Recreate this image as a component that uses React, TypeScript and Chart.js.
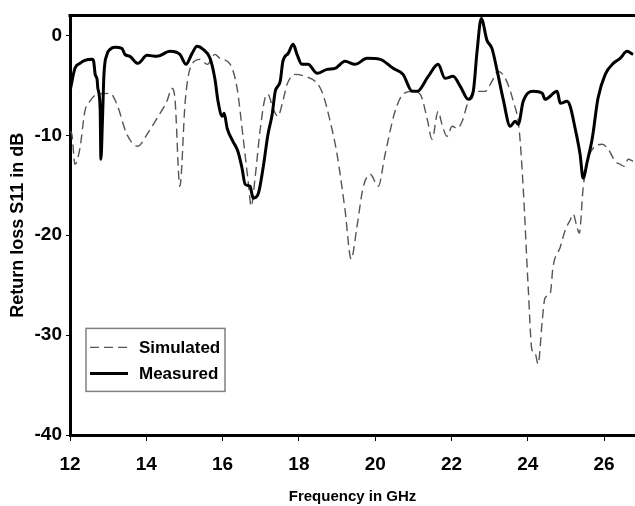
import { useEffect, useRef } from 'react';
import { Chart, registerables } from 'chart.js';

Chart.register(...registerables);

const FONT = "'Liberation Sans', Arial, sans-serif";

// Frequency axis (GHz)
const xTickStep = 2;
const xMin = 12;
const xMax = 26.81;
// Return loss axis (dB)
const yTickStep = 10;
const yMin = -40;
const yMax = 2;

const seriesLabels = ['Simulated', 'Measured'];

const simulatedFreq = [
  12.0, 12.05, 12.13, 12.26, 12.39, 12.52, 12.71, 13.05, 13.23, 13.49, 13.78, 14.02, 14.28, 14.54,
  14.67, 14.75, 14.88, 15.02, 15.15, 15.41, 15.6, 15.8, 15.93, 16.2, 16.38, 16.54, 16.67, 16.75,
  16.85, 16.98, 17.11, 17.19, 17.32, 17.45, 17.56, 17.69, 17.9, 18.16, 18.48, 18.63, 18.82, 19.0,
  19.21, 19.37, 19.52, 19.68, 19.87, 20.08, 20.26, 20.52, 20.73, 20.97, 21.18, 21.36, 21.49, 21.65,
  21.75, 21.88, 22.02, 22.15, 22.28, 22.44, 22.62, 22.88, 23.06, 23.22, 23.41, 23.62, 23.77, 23.88,
  24.01, 24.11, 24.19, 24.27, 24.38, 24.45, 24.59, 24.66, 24.85, 24.98, 25.11, 25.19, 25.29, 25.35,
  25.45, 25.56, 25.69, 25.95, 26.11, 26.29, 26.42, 26.53, 26.63, 26.76,
];
const simulatedDb = [
  -9.6, -9.9, -12.9, -11.3, -7.6, -6.6, -5.9, -5.8, -6.9, -9.9, -11.1, -9.9, -8.3, -6.6,
  -5.3, -6.3, -15.1, -6.6, -3.3, -2.4, -2.9, -1.9, -2.3, -2.9, -5.3, -10.3, -14.6, -17.1,
  -14.3, -9.6, -6.3, -5.9, -7.3, -8.1, -6.9, -4.9, -3.9, -4.1, -4.8, -5.9, -8.6, -11.9,
  -17.5, -22.4, -19.2, -15.3, -13.9, -15.1, -11.9, -7.6, -5.9, -5.6, -5.9, -8.3, -10.4, -7.6,
  -8.9, -10.1, -9.1, -9.3, -8.6, -6.6, -5.6, -5.6, -4.6, -3.6, -4.3, -6.6, -9.3, -15.3,
  -25.2, -31.5, -31.8, -32.9, -28.5, -26.3, -25.8, -23.2, -21.2, -19.5, -18.5, -17.9, -19.2, -19.8,
  -15.3, -12.6, -11.4, -10.9, -11.4, -12.6, -12.9, -13.1, -12.4, -12.6,
];

const measuredFreq = [
  12.0, 12.13, 12.26, 12.39, 12.58, 12.62, 12.66, 12.71, 12.73, 12.79, 12.81, 12.85, 12.89, 12.97,
  13.05, 13.18, 13.36, 13.44, 13.57, 13.78, 14.02, 14.28, 14.62, 14.88, 15.04, 15.2, 15.33, 15.49,
  15.67, 15.8, 15.88, 15.99, 16.04, 16.12, 16.27, 16.4, 16.51, 16.59, 16.72, 16.8, 16.93, 17.06,
  17.19, 17.3, 17.38, 17.51, 17.58, 17.72, 17.85, 17.95, 18.08, 18.24, 18.48, 18.74, 18.95, 19.21,
  19.47, 19.79, 20.13, 20.47, 20.73, 20.97, 21.1, 21.39, 21.65, 21.83, 22.04, 22.23, 22.44, 22.57,
  22.67, 22.78, 22.93, 23.06, 23.2, 23.35, 23.54, 23.67, 23.75, 23.88, 24.14, 24.38, 24.45, 24.77,
  24.85, 25.03, 25.11, 25.24, 25.37, 25.45, 25.56, 25.69, 25.84, 26.03, 26.24, 26.42, 26.6, 26.76,
];
const measuredDb = [
  -5.6, -3.3, -2.8, -2.5, -2.4, -2.6, -3.9, -4.4, -5.3, -7.3, -12.4, -8.6, -3.9, -1.9,
  -1.4, -1.2, -1.3, -1.9, -2.1, -2.8, -2.0, -2.1, -1.6, -1.9, -2.9, -1.8, -1.1, -1.4,
  -2.3, -4.4, -6.6, -8.1, -7.8, -9.3, -10.6, -11.6, -13.3, -14.9, -15.1, -16.3, -15.9, -13.3,
  -9.9, -7.9, -5.6, -4.6, -2.6, -1.8, -0.9, -1.9, -2.9, -2.9, -3.8, -3.4, -3.3, -2.6,
  -2.9, -2.3, -2.4, -3.3, -3.9, -5.6, -5.6, -4.1, -2.9, -4.3, -4.1, -5.1, -6.4, -5.6,
  -1.6, 1.7, -0.5, -1.3, -3.6, -6.3, -9.1, -8.6, -8.9, -6.6, -5.6, -5.8, -6.4, -5.6,
  -6.8, -6.6, -7.1, -9.3, -11.9, -14.3, -12.6, -10.3, -6.3, -3.9, -2.8, -2.3, -1.6, -1.9,
];

const pairs = (xs: number[], ys: number[]) => xs.map((x, i) => ({ x, y: ys[i] }));

const framePlugin = {
  id: 'frameAndLegend',
  afterDraw(chart: any) {
    const { ctx, chartArea } = chart;
    ctx.save();
    // top frame line
    ctx.strokeStyle = '#000';
    ctx.lineWidth = 3;
    ctx.beginPath();
    ctx.moveTo(chartArea.left - 1.5, chartArea.top);
    ctx.lineTo(chartArea.right, chartArea.top);
    ctx.stroke();

    // legend box
    const bx = chartArea.left + 16;
    const by = chartArea.top + 313;
    const bw = 139;
    const bh = 63;
    ctx.fillStyle = '#fff';
    ctx.fillRect(bx, by, bw, bh);
    ctx.strokeStyle = '#808080';
    ctx.lineWidth = 1.5;
    ctx.strokeRect(bx, by, bw, bh);
    chart.data.datasets.forEach((ds: any, i: number) => {
      const cy = by + 19 + i * 26;
      ctx.strokeStyle = ds.borderColor;
      ctx.lineWidth = ds.borderWidth;
      ctx.setLineDash(ds.borderDash || []);
      ctx.beginPath();
      ctx.moveTo(bx + 4, cy);
      ctx.lineTo(bx + 42, cy);
      ctx.stroke();
      ctx.setLineDash([]);
      ctx.fillStyle = '#000';
      ctx.font = `bold 17px ${FONT}`;
      ctx.textBaseline = 'middle';
      ctx.textAlign = 'left';
      ctx.fillText(ds.label, bx + 53, cy + 1);
    });
    ctx.restore();
  },
};

export default function App() {
  const ref = useRef<HTMLCanvasElement | null>(null);

  useEffect(() => {
    document.body.style.margin = '0';
    const canvas = ref.current;
    if (!canvas) return;
    const chart = new Chart(canvas, {
      type: 'line',
      data: {
        datasets: [
          {
            label: seriesLabels[0],
            data: pairs(simulatedFreq, simulatedDb),
            borderColor: '#555555',
            borderWidth: 1.4,
            borderDash: [9, 5],
            pointRadius: 0,
            fill: false,
            cubicInterpolationMode: 'monotone',
            order: 1,
          },
          {
            label: seriesLabels[1],
            data: pairs(measuredFreq, measuredDb),
            borderColor: '#000000',
            borderWidth: 3,
            pointRadius: 0,
            fill: false,
            cubicInterpolationMode: 'monotone',
            order: 0,
          },
        ],
      },
      options: {
        animation: false,
        responsive: false,
        layout: { padding: { top: 14, left: 0, right: 0, bottom: 0 } },
        plugins: {
          legend: { display: false },
          tooltip: { enabled: false },
        },
        scales: {
          x: {
            type: 'linear',
            min: xMin,
            max: xMax,
            afterFit: (s: any) => {
              s.height = 71;
            },
            grid: { drawOnChartArea: false, drawTicks: true, tickLength: 6, color: '#000', lineWidth: 1 },
            border: { display: true, width: 3, color: '#000' },
            ticks: {
              stepSize: xTickStep,
              includeBounds: false,
              color: '#000',
              font: { family: FONT, size: 19, weight: 'bold' },
              padding: 12,
              maxRotation: 0,
            },
            title: {
              display: true,
              text: 'Frequency in GHz',
              color: '#000',
              font: { family: FONT, size: 15, weight: 'bold' },
              padding: { top: 0, bottom: 0 },
            },
          },
          y: {
            type: 'linear',
            min: yMin,
            max: yMax,
            afterFit: (s: any) => {
              s.width = 70;
            },
            grid: { drawOnChartArea: false, drawTicks: true, tickLength: 4, color: '#000', lineWidth: 1 },
            border: { display: true, width: 3, color: '#000' },
            ticks: {
              stepSize: yTickStep,
              includeBounds: false,
              color: '#000',
              font: { family: FONT, size: 19, weight: 'bold' },
              padding: 4,
            },
            title: {
              display: true,
              text: 'Return loss S11 in dB',
              color: '#000',
              font: { family: FONT, size: 18, weight: 'bold' },
              padding: { top: 7, bottom: 0 },
            },
          },
        },
      },
      plugins: [framePlugin],
    } as any);
    return () => chart.destroy();
  }, []);

  return <canvas ref={ref} width={635} height={506} style={{ display: 'block' }} />;
}
